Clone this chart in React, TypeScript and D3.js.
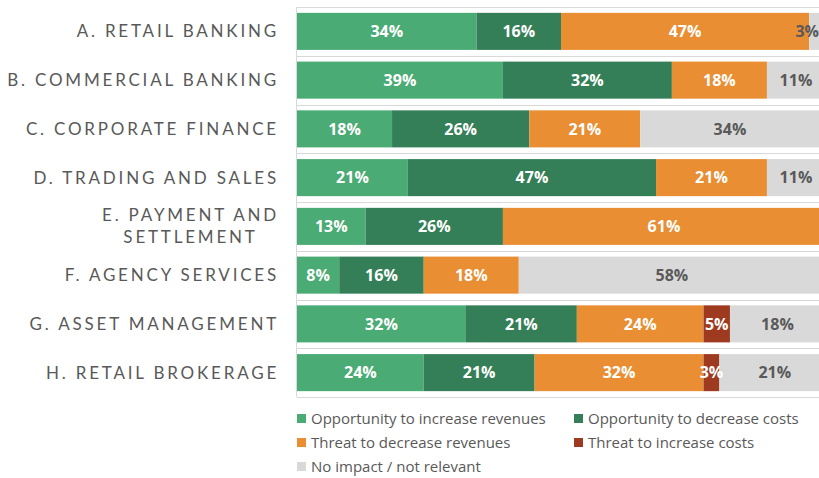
import React, { useEffect, useRef } from 'react';
import * as d3 from 'd3';

const categories = [
  'A. RETAIL BANKING',
  'B. COMMERCIAL BANKING',
  'C. CORPORATE FINANCE',
  'D. TRADING AND SALES',
  'E. PAYMENT AND|SETTLEMENT',
  'F. AGENCY SERVICES',
  'G. ASSET MANAGEMENT',
  'H. RETAIL BROKERAGE',
];

const seriesNames = [
  'Opportunity to increase revenues',
  'Opportunity to decrease costs',
  'Threat to decrease revenues',
  'Threat to increase costs',
  'No impact / not relevant',
];

const oppRevenues = [34, 39, 18, 21, 13, 8, 32, 24];
const oppCosts = [16, 32, 26, 47, 26, 16, 21, 21];
const threatRevenues = [47, 18, 21, 21, 61, 18, 24, 32];
const threatCosts = [0, 0, 0, 0, 0, 0, 5, 3];
const noImpact = [3, 11, 34, 11, 0, 58, 18, 21];

const seriesValues = [oppRevenues, oppCosts, threatRevenues, threatCosts, noImpact];
const colors = ['#4aab74', '#357f58', '#e98e32', '#9d3a1f', '#d9d9d9'];
const labelColors = ['#ffffff', '#ffffff', '#ffffff', '#ffffff', '#595959'];

const W = 819;
const H = 478;

const App = () => {
  const ref = useRef<SVGSVGElement>(null);

  useEffect(() => {
    document.body.style.margin = '0';
    const svg = d3.select(ref.current);
    svg.selectAll('*').remove();

    const x = d3.scaleLinear().domain([0, 100]).range([297, 825]);
    const y = d3.scaleBand().domain(categories).range([7, 397]).paddingInner(0.24).paddingOuter(0.12);

    // plot frame + band separators
    const grid = svg.append('g').attr('stroke', '#d9d9d9').attr('stroke-width', 1);
    const bounds = [7, ...categories.slice(1).map(c => y(c)! - (y.step() - y.bandwidth()) / 2), 397];
    grid.selectAll('line.h')
      .data(bounds)
      .join('line')
      .attr('x1', 297).attr('x2', W)
      .attr('y1', d => Math.round(d) + 0.5).attr('y2', d => Math.round(d) + 0.5);
    grid.append('line').attr('x1', 296.5).attr('x2', 296.5).attr('y1', 7).attr('y2', 397);

    // stacked rows
    const rows = categories.map((c, i) => {
      let acc = 0;
      return seriesValues.map((vals, s) => {
        const seg = { cat: c, s, v: vals[i], x0: acc, x1: acc + vals[i] };
        acc += vals[i];
        return seg;
      });
    }).flat().filter(d => d.v > 0);

    svg.append('g').selectAll('rect')
      .data(rows)
      .join('rect')
      .attr('x', d => x(d.x0))
      .attr('width', d => x(d.x1) - x(d.x0))
      .attr('y', d => y(d.cat)!)
      .attr('height', y.bandwidth())
      .attr('fill', d => colors[d.s]);

    svg.append('g')
      .attr('font-family', '"Open Sans", sans-serif')
      .attr('font-weight', 'bold')
      .attr('font-size', 16)
      .attr('text-anchor', 'middle')
      .selectAll('text')
      .data(rows)
      .join('text')
      .attr('x', d => (x(d.x0) + x(d.x1)) / 2)
      .attr('y', d => y(d.cat)! + y.bandwidth() / 2)
      .attr('dy', '0.36em')
      .attr('fill', d => (d.cat.startsWith('A.') && d.s === 4 ? '#595959' : labelColors[d.s]))
      .text(d => `${d.v}%`)
      .each(function () {
        // keep labels inside the visible plot, like the spreadsheet does
        const t = this as SVGTextElement;
        const half = t.getComputedTextLength() / 2;
        const cx = +t.getAttribute('x')!;
        if (cx + half > W) t.setAttribute('x', String(W - half));
      });

    // category labels
    const labels = svg.append('g')
      .attr('font-family', 'Lato, sans-serif')
      .attr('font-size', 17)
      .attr('letter-spacing', 2.8)
      .attr('fill', '#595959');
    categories.forEach(c => {
      const lines = c.split('|');
      const cy = y(c)! + y.bandwidth() / 2;
      if (lines.length === 1) {
        labels.append('text')
          .attr('x', 279).attr('y', cy).attr('dy', '0.35em')
          .attr('text-anchor', 'end')
          .text(c);
      } else {
        const first = labels.append('text')
          .attr('x', 279).attr('y', cy - 11).attr('dy', '0.35em')
          .attr('text-anchor', 'end')
          .text(lines[0]);
        const bb = (first.node() as SVGTextElement).getBBox();
        labels.append('text')
          .attr('x', bb.x + bb.width / 2).attr('y', cy + 11).attr('dy', '0.35em')
          .attr('text-anchor', 'middle')
          .text(lines[1]);
      }
    });

    // legend
    const legendPos = [[297, 419], [574, 419], [297, 443], [574, 443], [297, 467]];
    const legend = svg.append('g')
      .attr('font-family', '"Open Sans", sans-serif')
      .attr('font-size', 15)
      .attr('fill', '#595959');
    seriesNames.forEach((name, i) => {
      const [lx, ly] = legendPos[i];
      legend.append('rect').attr('x', lx).attr('y', ly - 5).attr('width', 9).attr('height', 9).attr('fill', colors[i]);
      legend.append('text').attr('x', lx + 14).attr('y', ly).attr('dy', '0.35em').text(name);
    });
  }, []);

  return <svg ref={ref} width={W} height={H} style={{ display: 'block', background: '#fff' }} />;
};

export default App;
